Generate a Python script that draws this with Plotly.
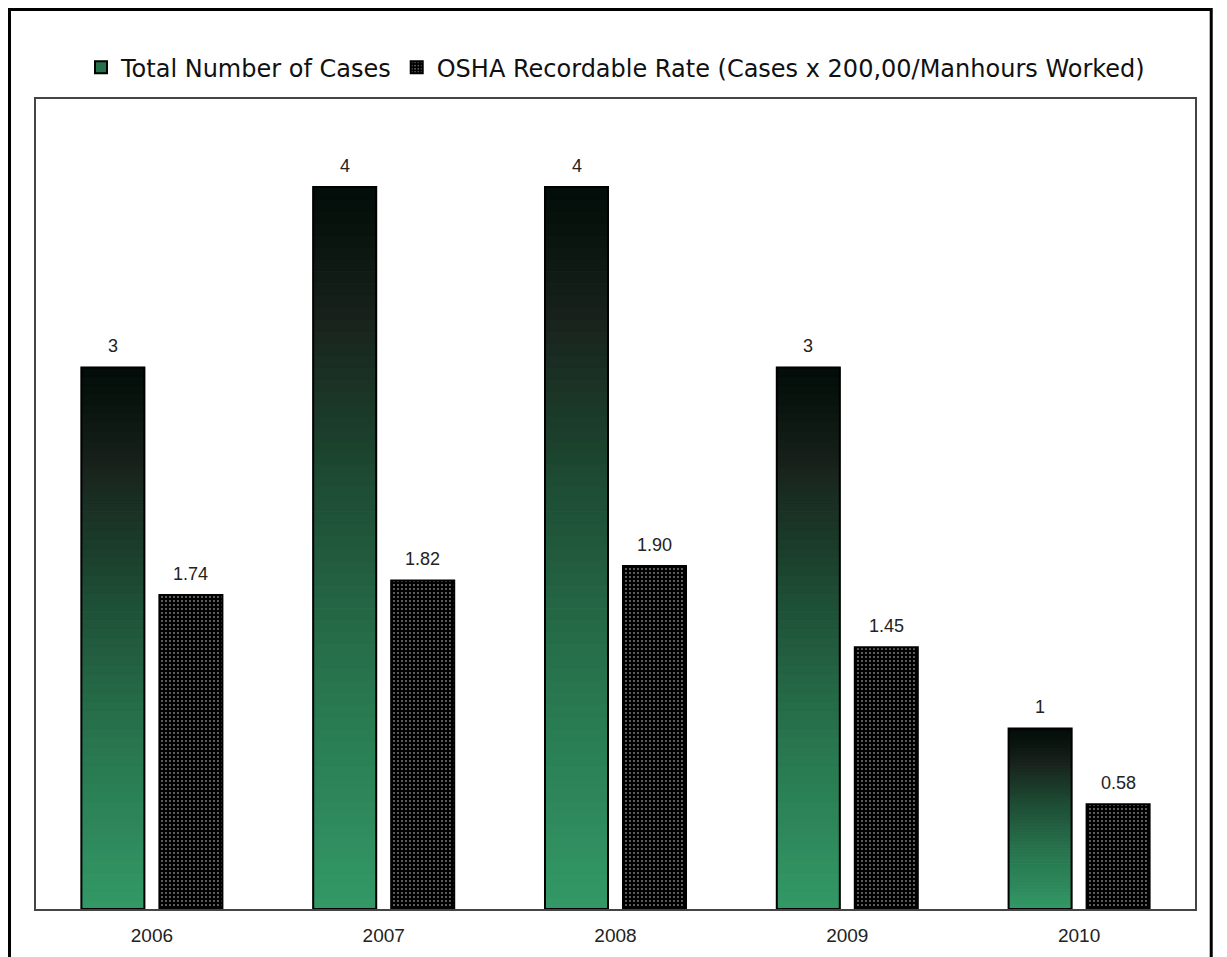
import plotly.graph_objects as go

years = ["2006", "2007", "2008", "2009", "2010"]
cases = [3, 4, 4, 3, 1]
rate = [1.74, 1.82, 1.90, 1.45, 0.58]
rate_labels = ["1.74", "1.82", "1.90", "1.45", "0.58"]
case_labels = ["3", "4", "4", "3", "1"]

name_cases = "Total Number of Cases"
name_rate = "OSHA Recordable Rate (Cases x 200,00/Manhours Worked)"

# gradient stops (fraction of bar height, rgb)
stops = [(0.0, (51, 153, 102)), (0.35, (38, 112, 75)), (0.6, (29, 74, 51)),
         (0.82, (24, 34, 27)), (1.0, (2, 12, 8))]


def grad(t):
    for (t0, c0), (t1, c1) in zip(stops[:-1], stops[1:]):
        if t0 <= t <= t1:
            f = (t - t0) / (t1 - t0)
            return "rgb(%d,%d,%d)" % tuple(round(a + (b - a) * f) for a, b in zip(c0, c1))
    return "rgb(%d,%d,%d)" % stops[-1][1]


N = 60
fig = go.Figure()
for i in range(N):
    col = grad((i + 0.5) / N)
    fig.add_trace(go.Bar(
        x=years, y=[v / N for v in cases], base=[v * i / N for v in cases],
        offsetgroup="cases", marker=dict(color=col, line=dict(width=1, color=col)),
        showlegend=False, hoverinfo="skip"))

# outline of case bars
fig.add_trace(go.Bar(
    x=years, y=cases, offsetgroup="cases",
    marker=dict(color="rgba(0,0,0,0)", line=dict(color="black", width=2)),
    showlegend=False, hoverinfo="skip"))

# legend entry for cases
fig.add_trace(go.Bar(
    x=years, y=[None] * 5, offsetgroup="cases", name=name_cases,
    marker=dict(color="rgb(38,112,75)", line=dict(color="black", width=2))))

fig.add_trace(go.Bar(
    x=years, y=rate, offsetgroup="rate", name=name_rate,
    marker=dict(color="black", line=dict(color="black", width=2),
                pattern=dict(shape=".", fgcolor="white", bgcolor="black",
                             size=4, solidity=0.18))))

lab_font = dict(family="Liberation Sans", size=18, color="#222")
annotations = []
for idx, (v, t) in enumerate(zip(cases, case_labels)):
    annotations.append(dict(x=idx, y=v, text=t, showarrow=False, xshift=-39, yshift=9,
                            yanchor="bottom", font=lab_font))
for idx, (v, t) in enumerate(zip(rate, rate_labels)):
    annotations.append(dict(x=idx, y=v, text=t, showarrow=False, xshift=39, yshift=9,
                            yanchor="bottom", font=lab_font))

fig.update_layout(
    width=1227, height=957,
    margin=dict(l=28, r=40, t=91, b=56),
    paper_bgcolor="white", plot_bgcolor="white",
    barmode="group", bargap=0.327, bargroupgap=0.192,
    showlegend=True,
    legend=dict(orientation="h", x=0.5, xanchor="center", y=1.011, yanchor="bottom",
                font=dict(family="DejaVu Sans", size=24, color="#111"),
                itemsizing="constant", traceorder="normal"),
    annotations=annotations,
    shapes=[dict(type="rect", xref="paper", yref="paper", x0=-0.02286, x1=1.014,
                 y0=-0.1, y1=1.1105, line=dict(color="black", width=3))],
    xaxis=dict(type="category", range=[-0.5, len(years) - 0.5], showline=True, mirror=True,
               linecolor="#444", linewidth=1.5,
               showgrid=False, ticks="", ticklabelstandoff=8,
               tickfont=dict(family="Liberation Sans", size=19, color="#222")),
    yaxis=dict(range=[0, 4.487], showline=True, mirror=True, linecolor="#444", linewidth=1.5,
               showgrid=False, showticklabels=False, ticks="", zeroline=False),
)

fig.write_html("out.html")
